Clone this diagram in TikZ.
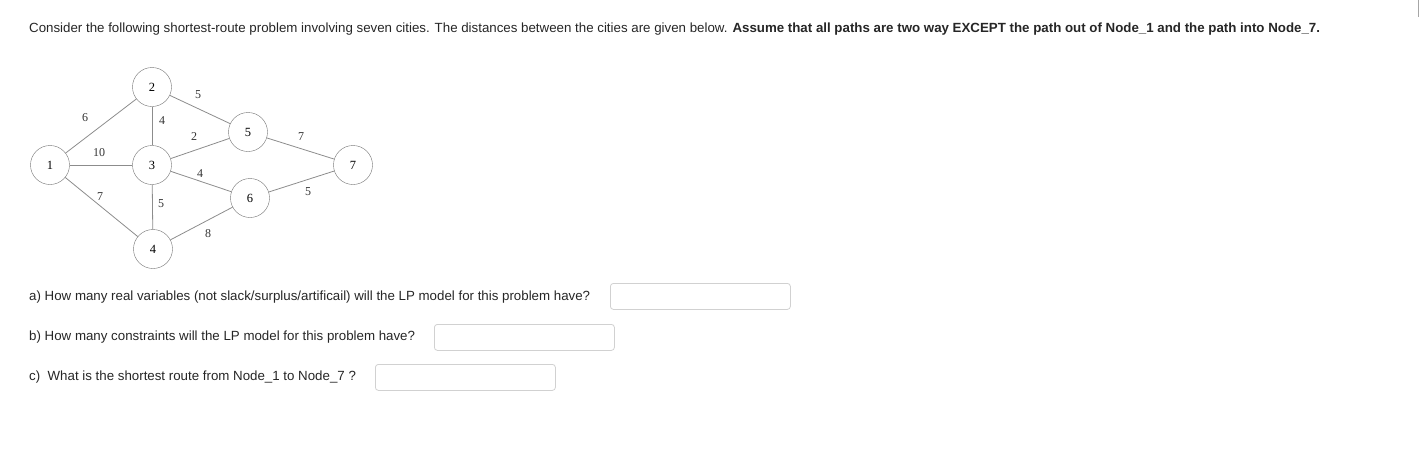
\documentclass[tikz,border=0pt]{standalone}
\usepackage{fontspec}
\setmainfont{Liberation Sans}
\newfontfamily\graphfont{Liberation Serif}
\usetikzlibrary{positioning}

\tikzset{
  city/.style={circle, draw=black!55, fill=white, minimum size=39pt, inner sep=0pt,
    font=\graphfont\fontsize{12.5}{12.5}\selectfont},
  road/.style={draw=black!45, line width=0.8pt},
  wt/.style={inner sep=0pt, font=\graphfont\fontsize{12}{12}\selectfont, text=black!80},
  txt/.style={anchor=base west, inner sep=0pt, font=\fontsize{13.3}{15}\selectfont, text=black!85},
  ansbox/.style={draw=black!18, rounded corners=3pt, line width=0.8pt,
    minimum width=180pt, minimum height=26pt, anchor=north west, inner sep=0pt}
}

\begin{document}
\begin{tikzpicture}[x=1pt,y=-1pt]
  \useasboundingbox (0,0) rectangle (1420,459);

  \node[txt] (intro) at (29,32) {Consider the following shortest-route problem involving seven cities. The distances between the cities are given below. \textbf{Assume that all paths are two way EXCEPT the path out of Node\_1 and the path into Node\_7.}};

  % the network
  \node[city] (1) at (50,165) {1};
  \node[city] (2) at (152,87) {2};
  \node[city] (3) at (152,165) {3};
  \node[city] (4) at (153,249) {4};
  \node[city] (5) at (248,132) {5};
  \node[city] (6) at (250,198) {6};
  \node[city] (7) at (353,165) {7};

  \draw[road] (1) -- (2);
  \draw[road] (1) -- (3);
  \draw[road] (1) -- (4);
  \draw[road] (2) -- (3);
  \draw[road] (2) -- (5);
  \draw[road] (3) -- (5);
  \draw[road] (3) -- (4);
  \draw[road] (3) -- (6);
  \draw[road] (4) -- (6);
  \draw[road] (5) -- (7);
  \draw[road] (6) -- (7);

  \node[wt] (w12) at (85,118) {6};
  \node[wt] (w13) at (99,153) {10};
  \node[wt] (w14) at (100,197) {7};
  \node[wt] (w23) at (162,121) {4};
  \node[wt] (w25) at (198,95) {5};
  \node[wt] (w35) at (194,137) {2};
  \node[wt] (w34) at (161,204) {5};
  \node[wt] (w36) at (200,174) {4};
  \node[wt] (w46) at (208,234) {8};
  \node[wt] (w57) at (301,137) {7};
  \node[wt] (w67) at (308,192) {5};

  % questions and answer boxes
  \node[txt] (qa) at (29,300) {a) How many real variables (not slack/surplus/artificail) will the LP model for this problem have?};
  \node[txt] (qb) at (29,340) {b) How many constraints will the LP model for this problem have?};
  \node[txt] (qc) at (29,380) {c)\ \ What is the shortest route from Node\_1 to Node\_7 ?};
  \node[ansbox] (ba) at (610,283) {};
  \node[ansbox] (bb) at (434,324) {};
  \node[ansbox] (bc) at (375,364) {};

  \draw[black!35, line width=1pt] (1418.5,0) -- (1418.5,17);
\end{tikzpicture}
\end{document}
